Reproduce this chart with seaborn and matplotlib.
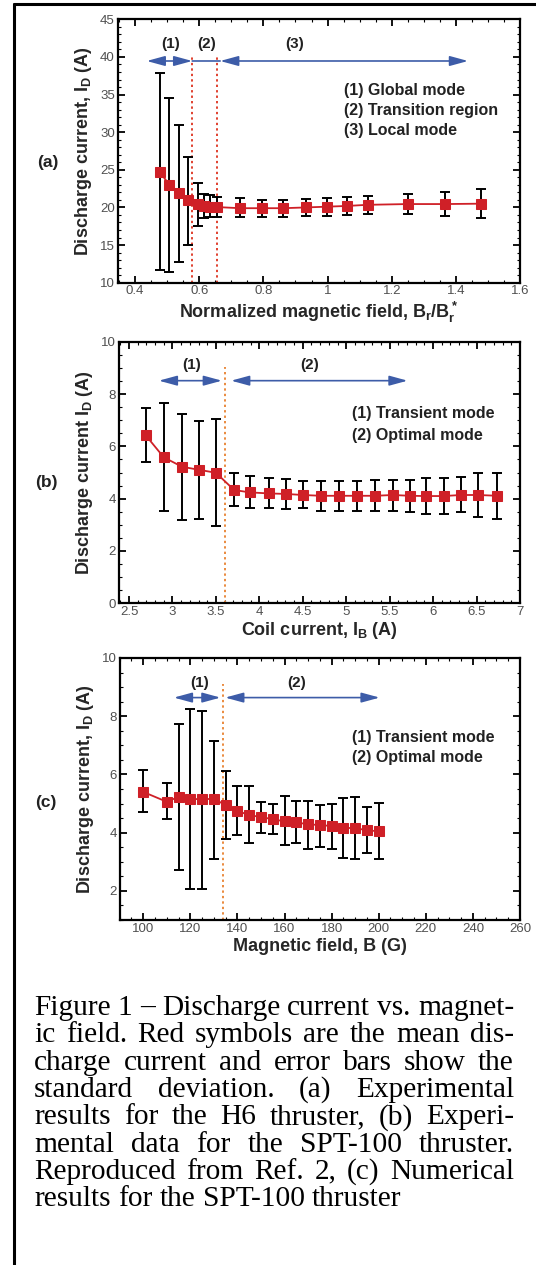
import numpy as np
import pandas as pd
import matplotlib
matplotlib.use("Agg")
import matplotlib.pyplot as plt
from matplotlib.lines import Line2D
from matplotlib.ticker import MultipleLocator, FuncFormatter
import seaborn as sns

# Style
sns.set_theme(style="ticks")
plt.rcParams['font.family'] = ['Liberation Sans', 'DejaVu Sans']
plt.rcParams['mathtext.fontset'] = 'custom'
plt.rcParams['mathtext.rm'] = 'Liberation Sans:bold'
plt.rcParams['mathtext.it'] = 'Liberation Sans:bold'
plt.rcParams['mathtext.bf'] = 'Liberation Sans:bold'
plt.rcParams['mathtext.default'] = 'bf'

# ---- data (a) H6 thruster ----
a_x = [0.476, 0.507, 0.537, 0.566, 0.597, 0.615, 0.633, 0.656, 0.727, 0.795,
       0.862, 0.932, 0.997, 1.061, 1.125, 1.250, 1.366, 1.477]
a_mean = [24.75, 23.0, 21.9, 21.0, 20.45, 20.25, 20.1, 20.05, 19.9, 19.9,
          19.9, 20.0, 20.1, 20.2, 20.35, 20.45, 20.45, 20.5]
a_hi = [37.8, 34.5, 30.9, 26.75, 23.2, 21.8, 21.65, 21.4, 21.2, 21.0,
        21.0, 21.1, 21.2, 21.45, 21.55, 21.8, 22.1, 22.4]
a_lo = [11.7, 11.45, 12.7, 15.0, 17.5, 18.6, 18.7, 18.7, 18.75, 18.7,
        18.7, 18.85, 18.85, 19.0, 19.1, 19.1, 18.85, 18.55]

# ---- data (b) SPT-100 experiment ----
b_x = [2.69, 2.90, 3.11, 3.31, 3.50, 3.71, 3.89, 4.11, 4.31, 4.50, 4.71,
       4.92, 5.12, 5.33, 5.54, 5.73, 5.92, 6.12, 6.32, 6.52, 6.74]
b_mean = [6.43, 5.58, 5.22, 5.10, 4.99, 4.33, 4.24, 4.20, 4.18, 4.14, 4.11,
          4.11, 4.11, 4.11, 4.14, 4.11, 4.10, 4.10, 4.14, 4.14, 4.11]
b_hi = [7.45, 7.67, 7.22, 6.97, 7.03, 4.99, 4.87, 4.80, 4.74, 4.68, 4.68,
        4.68, 4.68, 4.71, 4.71, 4.71, 4.80, 4.80, 4.84, 4.99, 4.97]
b_lo = [5.41, 3.53, 3.18, 3.24, 2.96, 3.73, 3.63, 3.63, 3.59, 3.63, 3.53,
        3.53, 3.53, 3.53, 3.53, 3.48, 3.40, 3.40, 3.48, 3.31, 3.21]

# ---- data (c) SPT-100 numerical ----
c_x = [100, 110, 115, 120, 125, 130, 135, 140, 145, 150,
       155, 160, 165, 170, 175, 180, 185, 190, 195, 200]
c_mean = [5.40, 5.06, 5.23, 5.17, 5.14, 5.17, 4.94, 4.75, 4.60, 4.54,
          4.46, 4.39, 4.35, 4.29, 4.26, 4.23, 4.16, 4.16, 4.08, 4.05]
c_hi = [6.14, 5.69, 7.75, 8.26, 8.18, 7.15, 6.11, 5.60, 5.60, 5.06,
        4.97, 5.25, 5.09, 5.09, 4.94, 5.00, 5.20, 5.23, 4.89, 5.03]
c_lo = [4.71, 4.46, 2.71, 2.05, 2.05, 3.11, 3.77, 3.93, 3.63, 3.99,
        3.97, 3.57, 3.63, 3.45, 3.51, 3.45, 3.14, 3.09, 3.31, 3.08]

# mode boundaries, arrows and labels
a_bounds = [0.578, 0.655]
a_arrows = [(0.436, 0.578, True), (0.578, 0.665, False), (0.665, 1.438, True)]
a_arrow_y = 39.46
a_region_x = [0.512, 0.623, 0.897]
a_region_lbl = ['(1)', '(2)', '(3)']
a_legend = ['(1) Global mode', '(2) Transition region', '(3) Local mode']

b_bounds = [3.6]
b_arrows = [(2.843, 3.569, True), (3.675, 5.706, True)]
b_arrow_y = 8.51
b_region_x = [3.22, 4.58]
b_region_lbl = ['(1)', '(2)']
b_legend = ['(1) Transient mode', '(2) Optimal mode']

c_bounds = [133.8]
c_arrows = [(113.0, 132.8, True), (134.8, 200.4, True)]
c_arrow_y = 8.64
c_region_x = [124.0, 165.0]
c_region_lbl = ['(1)', '(2)']
c_legend = ['(1) Transient mode', '(2) Optimal mode']

caption_lines = [
    "Figure 1 \u2013 Discharge current vs. magnet-",
    "ic field.  Red symbols are the mean dis-",
    "charge current and error bars show the",
    "standard deviation. (a) Experimental",
    "results for the H6 thruster, (b) Experi-",
    "mental data for the SPT-100 thruster.",
    "Reproduced from Ref. 2, (c) Numerical",
    "results for the SPT-100 thruster",
]

RED = '#cf2027'
BLUE = '#3d5ca8'
W, H = 536, 1265

fig = plt.figure(figsize=(W / 100, H / 100), dpi=100)
plain = FuncFormatter(lambda v, pos: f"{v:g}")


def box(l, t, r, b):
    return [l / W, 1 - b / H, (r - l) / W, (b - t) / H]


def draw_panel(ax, x, mean, lo, hi, xlim, ylim, xmaj, xmin, ymaj, ymin,
               bounds, bound_color, bound_top, arrows, arrow_y,
               region_x, region_lbl, region_y, legend, leg_x, leg_y, leg_dy,
               xlabel, ylabel, xlab_y):
    df = pd.DataFrame({'x': x, 'mean': mean, 'lo': lo, 'hi': hi})
    yerr = [df['mean'] - df['lo'], df['hi'] - df['mean']]
    ax.errorbar(df['x'], df['mean'], yerr=yerr, fmt='none', ecolor='black',
                elinewidth=1.4, capsize=3.4, capthick=1.4, zorder=2)
    sns.lineplot(data=df, x='x', y='mean', ax=ax, color=RED, linewidth=1.3,
                 marker='s', markersize=6.5, markeredgecolor=RED,
                 markerfacecolor=RED, errorbar=None, zorder=3)
    for b in bounds:
        ax.plot([b, b], [ylim[0], bound_top], color=bound_color, lw=1.4,
                ls=(0, (1.2, 1.6)), zorder=1)
    for x0, x1, heads in arrows:
        style = '<|-|>,head_length=1.1,head_width=0.3' if heads else '-'
        ax.annotate('', xy=(x1, arrow_y), xytext=(x0, arrow_y),
                    arrowprops=dict(arrowstyle=style, color=BLUE, lw=1.2,
                                    shrinkA=0, shrinkB=0, mutation_scale=10))
    for rx, rl in zip(region_x, region_lbl):
        ax.text(rx, region_y, rl, ha='center', va='center', fontsize=11,
                fontweight='bold', color='#222222')
    for i, t in enumerate(legend):
        ax.text(leg_x, leg_y - i * leg_dy, t, ha='left', va='center',
                fontsize=11.5, fontweight='bold', color='#222222')

    ax.set_xlim(*xlim)
    ax.set_ylim(*ylim)
    ax.xaxis.set_major_locator(MultipleLocator(xmaj))
    ax.xaxis.set_minor_locator(MultipleLocator(xmin))
    ax.yaxis.set_major_locator(MultipleLocator(ymaj))
    ax.yaxis.set_minor_locator(MultipleLocator(ymin))
    ax.xaxis.set_major_formatter(plain)
    ax.yaxis.set_major_formatter(plain)
    ax.tick_params(which='both', direction='in', top=True, right=True,
                   color='black', labelsize=9.5, labelcolor='#505050', pad=2)
    ax.tick_params(which='major', length=5, width=1.3)
    ax.tick_params(which='minor', length=2.5, width=0.8)
    for s in ax.spines.values():
        s.set_linewidth(1.6)
        s.set_color('black')
    ax.set_xlabel(xlabel, fontsize=13, fontweight='bold')
    ax.set_ylabel(ylabel, fontsize=13, fontweight='bold')
    ax.xaxis.label.set_va('baseline')
    ax.xaxis.set_label_coords(0.5, xlab_y)
    ax.yaxis.set_label_coords(-0.058, 0.5)
    ax.grid(False)


ax_a = fig.add_axes(box(117.5, 19.3, 520, 282.7))
draw_panel(ax_a, a_x, a_mean, a_lo, a_hi, (0.345, 1.6), (10, 45), 0.2, 0.05, 5, 1,
           a_bounds, '#e0402f', 40.2, a_arrows, a_arrow_y,
           a_region_x, a_region_lbl, 41.7, a_legend, 1.05, 35.6, 2.72,
           r'Normalized magnetic field, B$_r$/B$_r^*$',
           r'Discharge current, I$_D$ (A)', -0.134)

ax_b = fig.add_axes(box(118.6, 341.7, 520, 603.3))
draw_panel(ax_b, b_x, b_mean, b_lo, b_hi, (2.38, 7.0), (0, 10), 0.5, 0.1, 2, 0.5,
           b_bounds, '#ea8a3e', 9.05, b_arrows, b_arrow_y,
           b_region_x, b_region_lbl, 9.1, b_legend, 5.07, 7.26, 0.83,
           r'Coil current, I$_B$ (A)',
           r'Discharge current I$_D$ (A)', -0.121)

ax_c = fig.add_axes(box(119.7, 658, 520, 920))
draw_panel(ax_c, c_x, c_mean, c_lo, c_hi, (90, 260), (1, 10), 20, 5, 2, 0.5,
           c_bounds, '#ea8a3e', 9.1, c_arrows, c_arrow_y,
           c_region_x, c_region_lbl, 9.15, c_legend, 188.5, 7.27, 0.69,
           r'Magnetic field, B (G)',
           r'Discharge current, I$_D$ (A)', -0.117)

# panel letters
for lbl, (px, py) in zip(['(a)', '(b)', '(c)'], [(48, 163), (46, 483), (45.5, 802)]):
    fig.text(px / W, 1 - py / H, lbl, ha='center', va='center', fontsize=12.5,
             fontweight='bold', color='#222222')

# outer frame (top and left edges)
fig.add_artist(Line2D([13.5 / W, 1], [1 - 3.5 / H, 1 - 3.5 / H],
                      transform=fig.transFigure, color='black', lw=2.2))
fig.add_artist(Line2D([13.5 / W, 13.5 / W], [0, 1 - 3.5 / H],
                      transform=fig.transFigure, color='black', lw=2.2))

# caption: justified serif text
fig.canvas.draw()
renderer = fig.canvas.get_renderer()
cap_left, cap_right = 34, 514
base = 1015
step = 27.3
probe = fig.text(0, 0, caption_lines[-1], fontsize=10, family='Liberation Serif')
w10 = probe.get_window_extent(renderer).width
probe.remove()
cap_fs = 10 * 368 / w10

for i, line in enumerate(caption_lines):
    y = 1 - (base + i * step) / H
    words = line.split()
    texts = [fig.text(0, y, w, fontsize=cap_fs, family='Liberation Serif',
                      va='baseline', ha='left', color='black') for w in words]
    widths = [t.get_window_extent(renderer).width for t in texts]
    if i == len(caption_lines) - 1:
        gap_w = cap_fs * 0.25 * 100 / 72
    else:
        gap_w = (cap_right - cap_left - sum(widths)) / (len(words) - 1)
    xpos = cap_left
    for t, w in zip(texts, widths):
        t.set_x(xpos / W)
        xpos += w + gap_w

fig.savefig('out.png', dpi=100)
